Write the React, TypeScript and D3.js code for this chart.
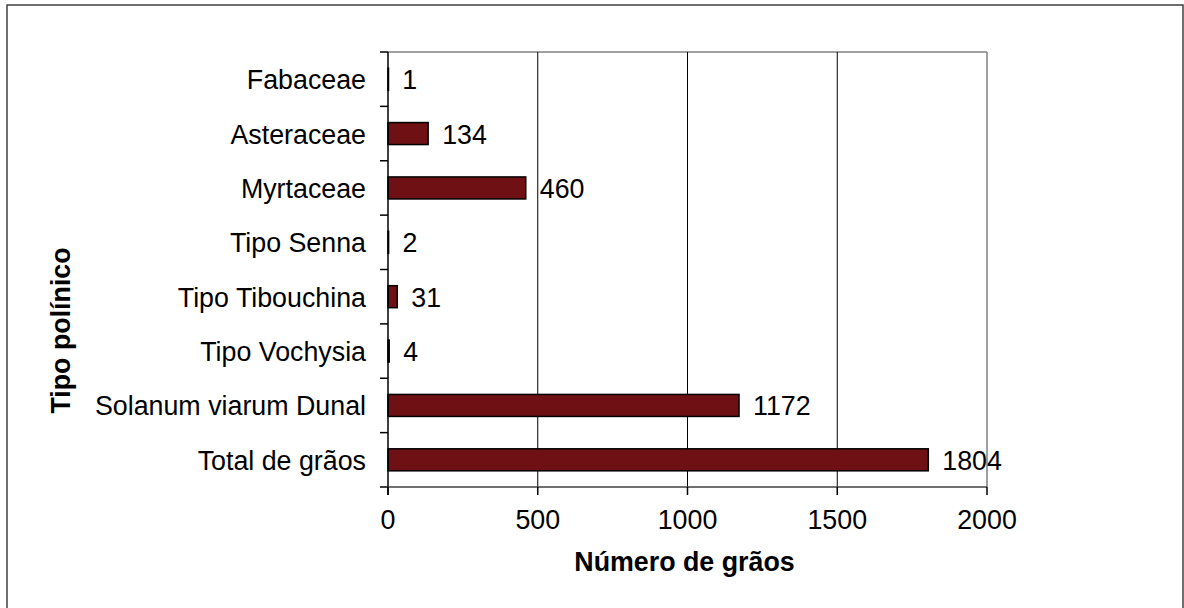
import React from "react";
import * as d3 from "d3";

const categories = [
  "Fabaceae",
  "Asteraceae",
  "Myrtaceae",
  "Tipo Senna",
  "Tipo Tibouchina",
  "Tipo Vochysia",
  "Solanum viarum Dunal",
  "Total de grãos",
];
const values = [1, 134, 460, 2, 31, 4, 1172, 1804];
const xTicks = [0, 500, 1000, 1500, 2000];
const xTitle = "Número de grãos";
const yTitle = "Tipo polínico";

const W = 1184;
const H = 608;
const FONT = "'Liberation Sans', Arial, Helvetica, sans-serif";
const FS = 26.8;

export default function App() {
  const left = 388;
  const right = 987;
  const top = 52;
  const bottom = 487;

  const x = d3.scaleLinear().domain([0, 2000]).range([left, right]);
  const y = d3.scaleBand<string>().domain(categories).range([top, bottom]);
  const band = y.step();
  const barH = 22;

  const boundaries = d3.range(categories.length + 1).map((i) => top + i * band);

  return (
    <svg
      width={W}
      height={H}
      style={{ position: "absolute", left: 0, top: 0, background: "#fff" }}
      fontFamily={FONT}
    >
      <rect x={0} y={0} width={W} height={H} fill="#fff" />
      {/* outer frame */}
      <rect x={7} y={5} width={1176} height={620} fill="none" stroke="#404040" strokeWidth={1.5} />

      {/* plot area border */}
      <line x1={left} x2={right} y1={top} y2={top} stroke="#808080" strokeWidth={1.5} />
      <line x1={right} x2={right} y1={top} y2={bottom} stroke="#808080" strokeWidth={1.5} />

      {/* gridlines */}
      {xTicks.slice(1, -1).map((t) => (
        <line key={"g" + t} x1={x(t)} x2={x(t)} y1={top} y2={bottom} stroke="#000" strokeWidth={1} />
      ))}

      {/* bars */}
      {categories.map((c, i) => {
        const cy = (y(c) ?? 0) + band / 2;
        return (
          <rect
            key={c}
            x={x(0)}
            y={cy - barH / 2}
            width={Math.max(0.5, x(values[i]) - x(0))}
            height={barH}
            fill="#6e1014"
            stroke="#000"
            strokeWidth={1.5}
          />
        );
      })}

      {/* value labels */}
      {categories.map((c, i) => {
        const cy = (y(c) ?? 0) + band / 2;
        return (
          <text key={"v" + c} x={x(values[i]) + 14} y={cy + 10} fontSize={FS} fill="#000">
            {values[i]}
          </text>
        );
      })}

      {/* y axis */}
      <line x1={left} x2={left} y1={top} y2={bottom + 8} stroke="#000" strokeWidth={1.5} />
      {boundaries.map((b, i) => (
        <line key={"yt" + i} x1={left - 8} x2={left} y1={b} y2={b} stroke="#000" strokeWidth={1.5} />
      ))}
      {categories.map((c) => {
        const cy = (y(c) ?? 0) + band / 2;
        return (
          <text key={"yl" + c} x={366} y={cy + 10} fontSize={FS} textAnchor="end" fill="#000">
            {c}
          </text>
        );
      })}

      {/* x axis */}
      <line x1={left} x2={right} y1={bottom} y2={bottom} stroke="#404040" strokeWidth={1.5} />
      {xTicks.map((t) => (
        <g key={"xt" + t}>
          <line x1={x(t)} x2={x(t)} y1={bottom} y2={bottom + 8} stroke="#000" strokeWidth={1.5} />
          <text x={x(t)} y={529} fontSize={FS} textAnchor="middle" fill="#000">
            {t}
          </text>
        </g>
      ))}

      {/* titles */}
      <text x={684.5} y={571} fontSize={FS} fontWeight="bold" textAnchor="middle" fill="#000">
        {xTitle}
      </text>
      <text
        transform={`translate(70, 330.5) rotate(-90)`}
        fontSize={FS}
        fontWeight="bold"
        textAnchor="middle"
        fill="#000"
      >
        {yTitle}
      </text>
    </svg>
  );
}
